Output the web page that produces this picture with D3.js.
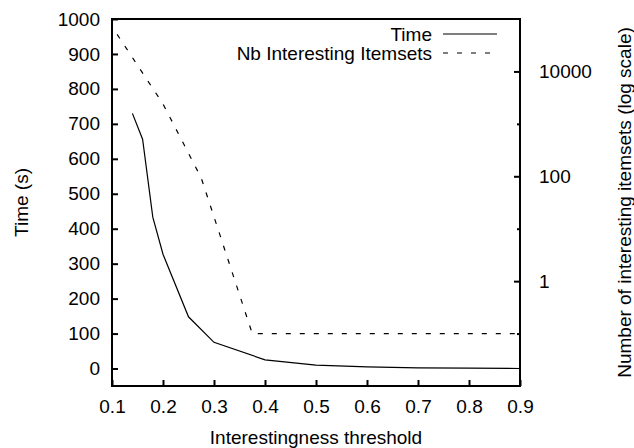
<!DOCTYPE html>
<html>
<head>
<meta charset="utf-8">
<script src="https://cdn.jsdelivr.net/npm/d3@7"></script>
<style>
  html, body { margin: 0; padding: 0; background: #fff; }
  svg { display: block; }
  text { font-family: "Liberation Sans", Arial, Helvetica, sans-serif; fill: #000; }
</style>
</head>
<body>
<svg id="chart" width="634" height="448"></svg>
<script>
// ---- data ----
const timeThresholds = [0.14, 0.16, 0.18, 0.2, 0.25, 0.3, 0.4, 0.5, 0.6, 0.7, 0.8, 0.9];
const timeValues     = [730, 656, 433, 327, 148, 75, 25, 10, 5, 2, 1, 0];
const itemThresholds = [0.11, 0.2, 0.275, 0.375, 0.9];
const itemValues     = [51000, 2400, 93, 0.1, 0.1];
const xTicks  = [0.1, 0.2, 0.3, 0.4, 0.5, 0.6, 0.7, 0.8, 0.9];
const yTicks  = [0, 100, 200, 300, 400, 500, 600, 700, 800, 900, 1000];
const y2Ticks = [1, 100, 10000];
const y2Minor = [0.1, 10, 1000];
const seriesNames = ["Time", "Nb Interesting Itemsets"];
const xTitle = "Interestingness threshold";
const yTitle = "Time (s)";
const y2Title = "Number of interesting itemsets (log scale)";

// ---- layout ----
const L = 112, R = 520, T = 19, B = 386;
const FS = 19;
const svg = d3.select("#chart");

const x  = d3.scaleLinear().domain([0.1, 0.9]).range([L, R]);
const y  = d3.scaleLinear().domain([-50, 1000]).range([B, T]);
const y2 = d3.scaleLog().domain([0.01, 100000]).range([B, T]);

function styleAxis(g) {
  g.select(".domain").remove();
  g.selectAll(".tick line").attr("stroke", "#000").attr("stroke-width", 2);
  g.selectAll(".tick text").style("font-size", FS + "px")
    .style("font-family", '"Liberation Sans", Arial, sans-serif').attr("fill", "#000");
}

svg.append("g").attr("transform", `translate(${L},0)`)
  .call(d3.axisLeft(y).tickValues(yTicks).tickSizeInner(-6).tickSizeOuter(0).tickPadding(12).tickFormat(d3.format("d")))
  .call(styleAxis);

svg.append("g").attr("transform", `translate(0,${B})`)
  .call(d3.axisBottom(x).tickValues(xTicks).tickSizeInner(-6).tickSizeOuter(0).tickPadding(14).tickFormat(d3.format(".1f")))
  .call(styleAxis);

svg.append("g").attr("transform", `translate(${R},0)`)
  .call(d3.axisRight(y2).tickValues(y2Ticks).tickSizeInner(-6).tickSizeOuter(0).tickPadding(19).tickFormat(d3.format("d")))
  .call(styleAxis);

svg.append("g").attr("transform", `translate(${R},0)`)
  .call(d3.axisRight(y2).tickValues(y2Minor).tickSizeInner(-3).tickSizeOuter(0).tickFormat(() => ""))
  .call(styleAxis);

// frame
svg.append("rect").attr("x", L).attr("y", T).attr("width", R - L).attr("height", B - T)
  .attr("fill", "none").attr("stroke", "#000").attr("stroke-width", 2);

// clip
svg.append("clipPath").attr("id", "clip").append("rect")
  .attr("x", L).attr("y", T).attr("width", R - L).attr("height", B - T);

const timeData = timeThresholds.map((t, i) => [t, timeValues[i]]);
const itemData = itemThresholds.map((t, i) => [t, itemValues[i]]);

svg.append("path").datum(timeData).attr("clip-path", "url(#clip)")
  .attr("fill", "none").attr("stroke", "#000").attr("stroke-width", 1.2)
  .attr("d", d3.line().x(d => x(d[0])).y(d => y(d[1])));

svg.append("path").datum(itemData).attr("clip-path", "url(#clip)")
  .attr("fill", "none").attr("stroke", "#000").attr("stroke-width", 1.2)
  .attr("stroke-dasharray", "5,9")
  .attr("d", d3.line().x(d => x(d[0])).y(d => y2(d[1])));

// legend
const leg = svg.append("g");
[34, 53].forEach((ly, i) => {
  leg.append("text").attr("x", 432).attr("y", ly).attr("dy", "0.35em")
    .attr("text-anchor", "end").style("font-size", FS + "px").text(seriesNames[i]);
  leg.append("line").attr("x1", 443).attr("x2", 497).attr("y1", ly).attr("y2", ly)
    .attr("stroke", "#000").attr("stroke-width", 1.2)
    .attr("stroke-dasharray", i === 1 ? "5,9" : null);
});

// titles
svg.append("text").attr("x", (L + R) / 2).attr("y", 437).attr("dy", "0.35em")
  .attr("text-anchor", "middle").style("font-size", FS + "px").text(xTitle);
svg.append("text").attr("transform", `translate(21,${(T + B) / 2}) rotate(-90)`).attr("dy", "0.35em")
  .attr("text-anchor", "middle").style("font-size", FS + "px").text(yTitle);
svg.append("text").attr("transform", `translate(624,${(T + B) / 2}) rotate(-90)`).attr("dy", "0.35em")
  .attr("text-anchor", "middle").style("font-size", FS + "px").text(y2Title);
</script>
</body>
</html>
